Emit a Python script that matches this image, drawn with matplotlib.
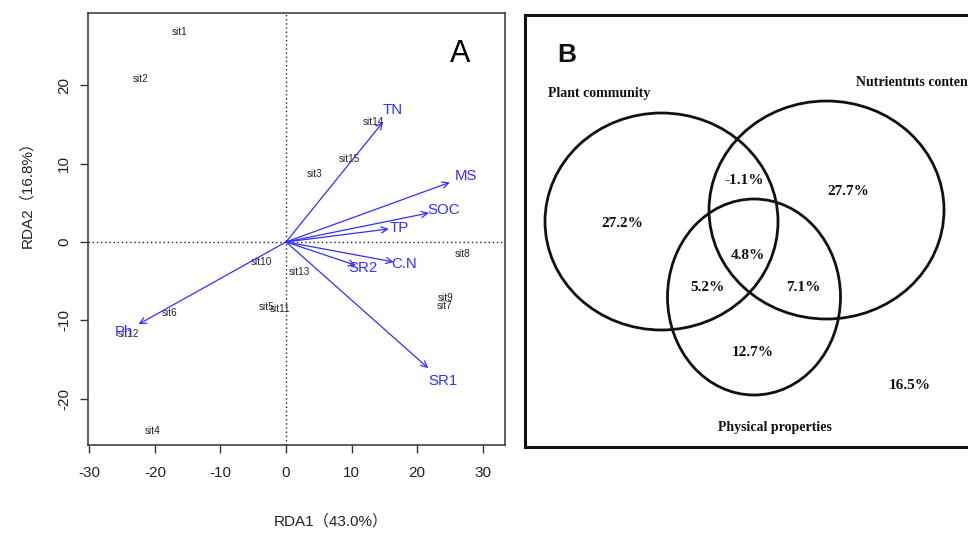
import matplotlib
matplotlib.use("Agg")
import matplotlib.pyplot as plt
from matplotlib.patches import Ellipse

# ---------------- data ----------------
site_names = ['sit1', 'sit2', 'sit3', 'sit4', 'sit5', 'sit6', 'sit7', 'sit8',
              'sit9', 'sit10', 'sit11', 'sit12', 'sit13', 'sit14', 'sit15']
site_x = [-16.3, -22.2, 4.4, -20.3, -2.9, -17.7, 24.1, 26.9,
          24.3, -3.7, -0.9, -24.0, 2.0, 13.3, 9.6]
site_y = [26.8, 20.8, 8.7, -24.1, -8.3, -9.1, -8.2, -1.5,
          -7.1, -2.5, -8.5, -11.7, -3.8, 15.3, 10.6]

env_names = ['TN', 'MS', 'SOC', 'TP', 'C.N', 'SR2', 'SR1', 'Ph']
env_x = [14.8, 25.0, 21.8, 15.7, 16.4, 10.7, 21.7, -22.5]
env_y = [15.3, 7.6, 3.7, 1.66, -2.55, -3.0, -16.1, -10.5]

xticks = [-30, -20, -10, 0, 10, 20, 30]
yticks = [-20, -10, 0, 10, 20]
xlabel = 'RDA1（43.0%）'
ylabel = 'RDA2（16.8%）'

venn_sets = ['Plant community', 'Nutrientnts content', 'Physical properties']
venn_values = {'pc': 27.2, 'nc': 27.7, 'pp': 12.7, 'pc_nc': -1.1,
               'pc_pp': 5.2, 'nc_pp': 7.1, 'all': 4.8, 'resid': 16.5}

# ---------------- figure ----------------
W, H = 968, 535
fig = plt.figure(figsize=(W / 100, H / 100), dpi=100)
sans = ['Liberation Sans', 'Noto Sans CJK SC', 'DejaVu Sans']
serif = ['Liberation Serif', 'DejaVu Serif']

# ---- Panel A ----
axA = fig.add_axes([88 / W, 1 - 445 / H, 417 / W, 432 / H])
axA.set_xlim(-30.2, 33.4)
axA.set_ylim(-25.9, 29.2)
for s in axA.spines.values():
    s.set_linewidth(1.1)
    s.set_color('#333333')
axA.axhline(0, color='#222222', lw=1.0, ls=(0, (1, 2)))
axA.axvline(0, color='#222222', lw=1.0, ls=(0, (1, 2)))

for n, x, y in zip(site_names, site_x, site_y):
    axA.text(x, y, n, ha='center', va='center', fontsize=7.2,
             color='#222222', family=sans)

blue = '#3030ff'
for n, x, y in zip(env_names, env_x, env_y):
    axA.annotate('', xy=(x, y), xytext=(0, 0),
                 arrowprops=dict(arrowstyle='->,head_length=0.45,head_width=0.22',
                                 color=blue, lw=0.9, shrinkA=0, shrinkB=0))
    axA.text(x * 1.1, y * 1.1, n, ha='center', va='center', fontsize=10.8,
             color=blue, family=sans)

axA.set_xticks(xticks)
axA.set_yticks(yticks)
axA.set_xticklabels([str(t) for t in xticks], family=sans, fontsize=11, color='#222222')
axA.set_yticklabels([str(t) for t in yticks], family=sans, fontsize=11, color='#222222',
                    rotation=90, va='center')
axA.tick_params(axis='both', length=6, width=1.0, color='#333333', pad=9)
axA.tick_params(axis='y', pad=6)
axA.text(0.892, 0.905, 'A', transform=axA.transAxes, ha='center', va='center',
         fontsize=22, family=sans, color='black')

fig.text(331 / W, 1 - 521 / H, xlabel, ha='center', va='center', fontsize=11,
         family=sans, color='#222222')
fig.text(27 / W, 1 - 191 / H, ylabel, ha='center', va='center', fontsize=11,
         family=sans, color='#222222', rotation=90)

# ---- Panel B (Venn) ----
xr = 980
axB = fig.add_axes([525 / W, 1 - 447 / H, (xr - 525) / W, 432 / H])
axB.set_xlim(525, xr)
axB.set_ylim(447, 15)
axB.set_xticks([])
axB.set_yticks([])
for s in axB.spines.values():
    s.set_linewidth(2.2)
    s.set_color('#111111')

ellipses = [((661.5, 221.5), 233, 217),
            ((826.5, 210.0), 235, 218),
            ((754.0, 297.0), 173, 196)]
for (c, w, h) in ellipses:
    axB.add_patch(Ellipse(c, w, h, fill=False, lw=2.0, ec='#111111'))

tkw = dict(family=serif, fontsize=11, color='#111111', ha='center', va='center',
           fontweight='bold')
axB.text(567, 55, 'B', ha='center', va='center', fontsize=19, family=sans,
         fontweight='bold', color='#111111')
lkw = dict(family=serif, fontsize=10, color='#111111', va='center', fontweight='bold')
axB.text(548, 93, venn_sets[0], ha='left', **lkw)
axB.text(856, 82, venn_sets[1], ha='left', **lkw)
axB.text(775, 427, venn_sets[2], ha='center', **lkw)

pos = {'pc': (622, 223), 'nc': (848, 191), 'pp': (753, 352), 'pc_nc': (744, 180),
       'pc_pp': (707, 287), 'nc_pp': (803, 287), 'all': (748, 255), 'resid': (910, 385)}
for k, v in venn_values.items():
    axB.text(*pos[k], f'{v:.1f}%', **tkw)

fig.savefig('out.png', dpi=100)
